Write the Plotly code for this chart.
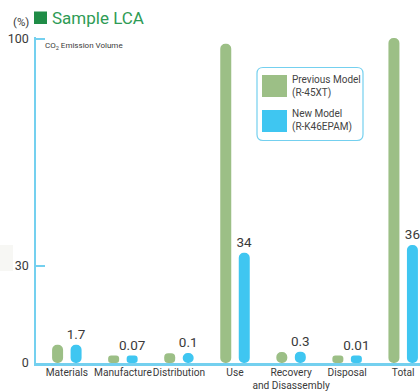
import plotly.graph_objects as go

# ---- data ----
categories = ["Materials", "Manufacture", "Distribution", "Use",
              "Recovery<br>and Disassembly", "Disposal", "Total"]
previous_model_heights = [5.6, 2.3, 3.0, 98.5, 3.4, 2.3, 100.3]
new_model_heights = [5.6, 2.3, 3.1, 34.0, 3.5, 2.3, 36.4]
new_model_labels = ["1.7", "0.07", "0.1", "34", "0.3", "0.01", "36"]
y_tick_values = [0, 30, 100]
y_tick_labels = ["0", "30", "100"]
series_names = ["Previous Model<br>(R-45XT)", "New Model<br>(R-K46EPAM)"]

GREEN = "#9cbf86"
BLUE = "#3fc6f1"
AXIS = "#74d0ef"
TEXT = "#3a3a3a"
FONT = "Roboto, Arial, sans-serif"

W, H = 420, 392
ML, MR, MT, MB = 36, 0, 37, 29
PW, PH = W - ML - MR, H - MT - MB
YMAX = 100.6


def px(x):
    return (x - ML) / PW


def py(y):
    return (H - MB - y) / PH


xs = list(range(len(categories)))
BW = 0.196
OFF_G = -0.165 - BW / 2
OFF_B = 0.165 - BW / 2

fig = go.Figure()


def pill(heights, color, offset, labels=None):
    kw = {}
    if labels:
        kw = dict(text=labels, textposition="outside", constraintext="none",
                  textfont=dict(size=13.5, color=TEXT, family=FONT))
    fig.add_trace(go.Bar(x=xs, y=heights, base=[0] * len(heights), width=BW, offset=offset,
                         marker=dict(color=color, cornerradius="50%", line=dict(width=0)),
                         cliponaxis=False, showlegend=False, hoverinfo="skip", **kw))


pill(previous_model_heights, GREEN, OFF_G)
pill(new_model_heights, BLUE, OFF_B, new_model_labels)

shapes = []
annotations = []

# faint box at left
shapes.append(dict(type="rect", xref="paper", yref="paper", x0=px(0), x1=px(13),
                   y0=py(271), y1=py(245), fillcolor="#f7f7f4", line=dict(width=0), layer="below"))

# title square
shapes.append(dict(type="rect", xref="paper", yref="paper", x0=px(34), x1=px(47),
                   y0=py(24), y1=py(11.5), fillcolor="#1f8c46", line=dict(width=0)))
annotations.append(dict(xref="paper", yref="paper", x=px(50), y=py(18), xanchor="left",
                        yanchor="middle", text="Sample LCA", showarrow=False,
                        font=dict(family=FONT, size=17, color="#2e9b55")))
annotations.append(dict(xref="paper", yref="paper", x=px(21), y=py(22), xanchor="center",
                        yanchor="middle", text="(%)", showarrow=False,
                        font=dict(family=FONT, size=11.5, color=TEXT)))
annotations.append(dict(xref="paper", yref="paper", x=px(43), y=py(46), xanchor="left",
                        yanchor="middle", text="CO<sub>2</sub> Emission Volume", showarrow=False,
                        font=dict(family=FONT, size=8, color=TEXT)))

# custom legend box with rounded corners
bx0, bx1, by0, by1, r = 257, 363, 67.5, 140.5, 6
rx, ry = r / PW, r / PH
X0, X1, Y0, Y1 = px(bx0), px(bx1), py(by1), py(by0)
path = (f"M {X0+rx},{Y0} L {X1-rx},{Y0} Q {X1},{Y0} {X1},{Y0+ry} "
        f"L {X1},{Y1-ry} Q {X1},{Y1} {X1-rx},{Y1} L {X0+rx},{Y1} Q {X0},{Y1} {X0},{Y1-ry} "
        f"L {X0},{Y0+ry} Q {X0},{Y0} {X0+rx},{Y0} Z")
shapes.append(dict(type="path", xref="paper", yref="paper", path=path,
                   fillcolor="white", line=dict(color=AXIS, width=1.2)))
for (y0, y1, color, name) in [(75, 97, GREEN, series_names[0]),
                              (110, 132, BLUE, series_names[1])]:
    shapes.append(dict(type="rect", xref="paper", yref="paper", x0=px(262), x1=px(287),
                       y0=py(y1), y1=py(y0), fillcolor=color, line=dict(width=0)))
    annotations.append(dict(xref="paper", yref="paper", x=px(290), y=py((y0 + y1) / 2),
                            xanchor="left", yanchor="middle", align="left", text=name,
                            showarrow=False, font=dict(family=FONT, size=10, color="#444")))

fig.update_layout(
    width=W, height=H,
    margin=dict(l=ML, r=MR, t=MT, b=MB, pad=0, autoexpand=False),
    paper_bgcolor="white", plot_bgcolor="white",
    barmode="overlay",
    showlegend=False,
    shapes=shapes, annotations=annotations,
    xaxis=dict(range=[-0.55, 6.3], tickvals=xs, ticktext=categories, tickangle=0,
               automargin=False,
               showgrid=False, zeroline=False, showline=True, linecolor=AXIS, linewidth=2.5,
               ticks="", tickfont=dict(family=FONT, size=10.2, color=TEXT), ticklabelstandoff=-2,
               fixedrange=True),
    yaxis=dict(range=[0, YMAX], tickvals=y_tick_values, ticktext=y_tick_labels,
               automargin=False,
               showgrid=False, zeroline=False, showline=True, linecolor=AXIS, linewidth=1.5,
               ticks="inside", ticklen=9, tickcolor=AXIS, tickwidth=1.5,
               tickfont=dict(family=FONT, size=12.5, color=TEXT), ticklabelstandoff=3,
               fixedrange=True),
)

fig.write_html("out.html", config={"displayModeBar": False})
